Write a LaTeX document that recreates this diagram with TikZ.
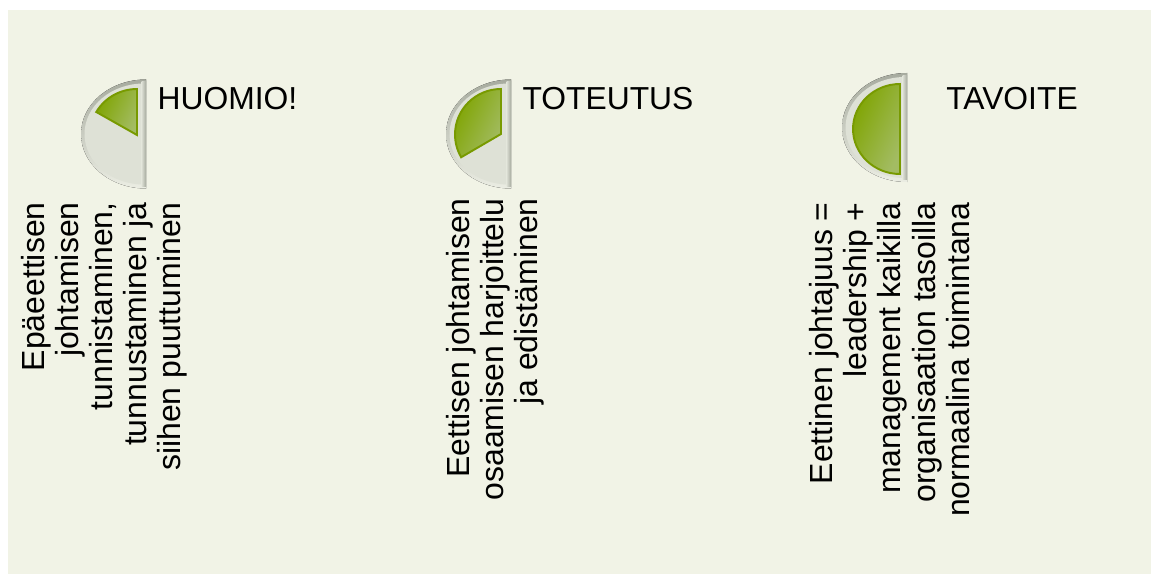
\documentclass[tikz,border=0pt]{standalone}
\usepackage{fontspec}
\setmainfont{Liberation Sans}
\usepackage{tikz}
\usetikzlibrary{positioning}
\definecolor{panelbg}{HTML}{F1F3E6}
\definecolor{discfill}{HTML}{DEE1D6}
\definecolor{rimdark}{HTML}{A7AB9F}
\definecolor{rimlight}{HTML}{EBEDE3}
\definecolor{wedgedark}{HTML}{7FA400}
\definecolor{wedgelight}{HTML}{A3BC63}
\definecolor{wedgeline}{HTML}{789A00}
\tikzset{
  bodytext/.style={rotate=90, anchor=east, align=right, inner sep=0pt, text=black,
    font=\fontsize{18.2pt}{19.4pt}\selectfont},
  headtext/.style={anchor=base, inner sep=0pt, text=black, font=\fontsize{18.1pt}{19.4pt}\selectfont},
  wedge/.style={draw=wedgeline, line width=1.1pt, left color=wedgedark, right color=wedgelight, shading angle=65},
}
% half disc: #1 = x of straight edge, #2 = y of centre
\newcommand{\halfdisc}[2]{
  \fill[top color=rimdark, bottom color=rimlight] (#1,#2-54.5) arc[start angle=270, end angle=90, x radius=65, y radius=54.5] -- cycle;
  \fill[discfill] (#1-2,#2-50.5) arc[start angle=270, end angle=90, x radius=59.5, y radius=50.5] -- cycle;
  \fill[left color=discfill, right color=rimdark] (#1-4.5,#2-52) rectangle (#1,#2+52);
}
\begin{document}
\begin{tikzpicture}[x=0.02cm, y=-0.02cm]
  \useasboundingbox (0,0) rectangle (1151,574);
  \fill[panelbg] (8,10) rectangle (1151,574);

  \halfdisc{146}{134}
  \draw[wedge] (137,135) -- (137,89) arc[start angle=270, end angle=210, x radius=47, y radius=46] -- cycle;
  \node[headtext] (huomio) at (227.5,110) {HUOMIO!};
  \node[bodytext] (huomiotext) at (104,202) {Epäeettisen\\johtamisen\\tunnistaminen,\\tunnustaminen ja\\siihen puuttuminen};

  \halfdisc{511}{134}
  \draw[wedge] (501,134) -- (501,89) arc[start angle=270, end angle=150, x radius=46, y radius=45.5] -- cycle;
  \node[headtext] (toteutus) at (608,110) {TOTEUTUS};
  \node[bodytext] (toteutustext) at (495.5,198) {Eettisen johtamisen\\osaamisen harjoittelu\\ja edistäminen};

  \halfdisc{907}{127.5}
  \draw[wedge] (900,84) arc[start angle=270, end angle=90, x radius=47, y radius=45] -- cycle;
  \node[headtext] (tavoite) at (1012,110) {TAVOITE};
  \node[bodytext] (tavoitetext) at (889.5,202) {Eettinen johtajuus =\\leadership +\\management kaikilla\\organisaation tasoilla\\normaalina toimintana};
\end{tikzpicture}
\end{document}
